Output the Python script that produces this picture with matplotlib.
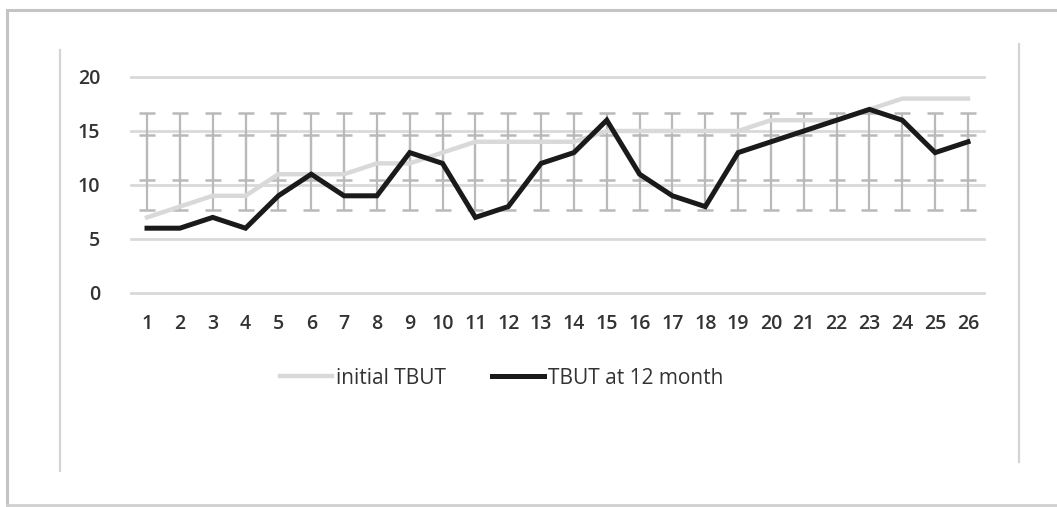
import numpy as np
import matplotlib
matplotlib.use("Agg")
import matplotlib.pyplot as plt
from matplotlib.lines import Line2D

# Tear break-up time per patient (seconds)
patients = list(range(1, 27))
initial_tbut = [7, 8, 9, 9, 11, 11, 11, 12, 12, 13, 14, 14, 14,
                14, 15, 15, 15, 15, 15, 16, 16, 16, 17, 18, 18, 18]
tbut_12_month = [6, 6, 7, 6, 9, 11, 9, 9, 13, 12, 7, 8, 12,
                 13, 16, 11, 9, 8, 13, 14, 15, 16, 17, 16, 13, 14]
series_names = ["initial TBUT", "TBUT at 12 month"]
y_ticks = [0, 5, 10, 15, 20]

W, H = 1057, 507
fig = plt.figure(figsize=(W / 100, H / 100), dpi=100)
fig.patch.set_facecolor("white")

# outer frame (left, top, bottom) and inner chart-area edges
frame_col = "#c4c4c4"
fig.add_artist(Line2D([7 / W, 7 / W], [1 - 10 / H, 1 - 505 / H], color=frame_col, lw=2.2))
fig.add_artist(Line2D([7 / W, 1.0], [1 - 10 / H, 1 - 10 / H], color=frame_col, lw=2.2))
fig.add_artist(Line2D([7 / W, 1.0], [1 - 505 / H, 1 - 505 / H], color="#d0d0d0", lw=2.0))
fig.add_artist(Line2D([60 / W, 60 / W], [1 - 50 / H, 1 - 471 / H], color="#d4d4d4", lw=1.6))
fig.add_artist(Line2D([1019 / W, 1019 / W], [1 - 44 / H, 1 - 462 / H], color="#d4d4d4", lw=1.6))

x0, x1 = 130.6, 984.4
y_top, y_bot = 77, 293
ax = fig.add_axes([x0 / W, 1 - y_bot / H, (x1 - x0) / W, (y_bot - y_top) / H])
ax.set_xlim(0.5, 26.5)
ax.set_ylim(0, 20)
for s in ax.spines.values():
    s.set_visible(False)
ax.set_yticks(y_ticks)
ax.set_xticks(patients)
ax.tick_params(length=0, colors="#333333", labelsize=14)
ax.tick_params(axis="y", pad=22)
ax.tick_params(axis="x", pad=15)
for lab in ax.get_xticklabels() + ax.get_yticklabels():
    lab.set_fontfamily("Open Sans")
    lab.set_fontweight("semibold")
for v in y_ticks:
    ax.axhline(v, color="#d9d9d9", lw=2.0, zorder=0, clip_on=False)

# standard-deviation error bars drawn around each series mean
err_col = "#b9b9b9"
for series in (initial_tbut, tbut_12_month):
    m = np.mean(series)
    sd = np.std(series, ddof=1)
    ax.errorbar(patients, [m] * len(patients), yerr=sd, fmt="none",
                ecolor=err_col, elinewidth=1.6, capsize=6, capthick=1.8, zorder=1)

ax.plot(patients, initial_tbut, color="#d9d9d9", lw=3.2, zorder=2,
        solid_joinstyle="miter", label=series_names[0], clip_on=False)
ax.plot(patients, tbut_12_month, color="#1a1a1a", lw=3.6, zorder=3,
        solid_joinstyle="miter", label=series_names[1], clip_on=False)

leg = fig.legend(loc="center", bbox_to_anchor=(502 / W, 1 - 378 / H), ncol=2,
                 frameon=False, handlelength=2.5, handletextpad=0.2,
                 columnspacing=2.2, prop={"family": "Open Sans", "size": 15})
for t in leg.get_texts():
    t.set_color("#333333")

fig.savefig("out.png", dpi=100, facecolor="white")
